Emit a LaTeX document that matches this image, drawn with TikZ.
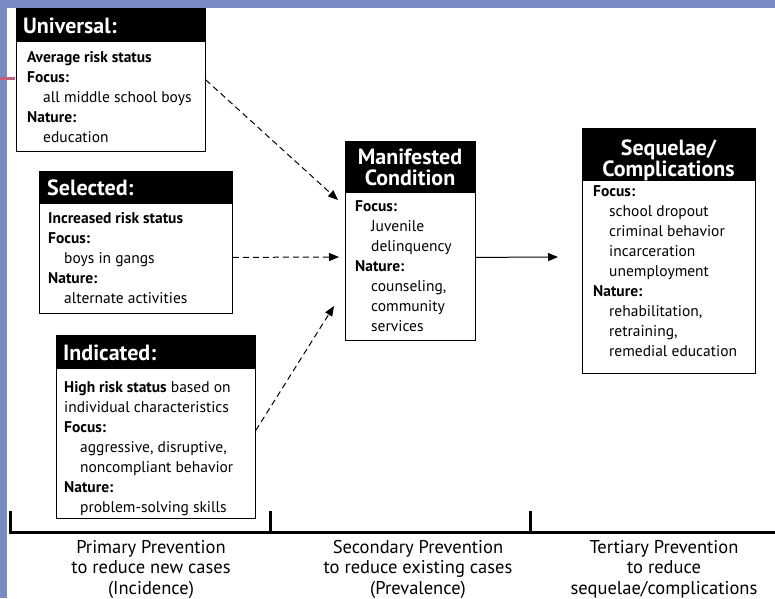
\documentclass[tikz,border=0pt]{standalone}
\usepackage{fontspec}
\setmainfont{PT Sans}
\usetikzlibrary{arrows.meta}
\definecolor{slideblue}{RGB}{122,138,194}
\definecolor{slidemark}{RGB}{192,96,122}
\newcommand\bxind{\hspace*{16pt}}
\newcommand\firstline{\rule{0pt}{13pt}}
\newcommand\hdrline{\rule{0pt}{18pt}}
\begin{document}
\begin{tikzpicture}[x=1pt,y=-1pt,
  box/.style={draw=black, line width=0.8pt, fill=white, inner sep=0pt, anchor=north west},
  hdr/.style={draw=black, fill=black, line width=0.8pt, inner sep=0pt, anchor=north west},
  htext/.style={text=white, font=\fontsize{22}{21}\selectfont\bfseries, inner sep=0pt, align=center},
  body/.style={font=\fontsize{15.5}{20}\selectfont, align=left, inner sep=0pt, anchor=north west},
  foot/.style={font=\fontsize{18.5}{20.5}\selectfont, align=center, inner sep=0pt, anchor=north},
  darrow/.style={dash pattern=on 6pt off 4pt, line width=1pt, -{Triangle[length=10pt,width=8pt]}},
  sarrow/.style={line width=1pt, -{Triangle[length=10pt,width=8pt]}},
  axis/.style={line width=3pt}
]
\useasboundingbox (0,0) rectangle (775,598);
% slide background
\fill[white] (0,0) rectangle (775,598);
\fill[slideblue] (0,0) rectangle (7,598);
\fill[slideblue] (0,0) rectangle (775,8);
\fill[slidemark] (0,77) rectangle (15,80);

% Universal
\node[box, minimum width=189pt, minimum height=143pt] (uni) at (16,8) {};
\node[hdr, minimum width=189pt, minimum height=33pt] (unihdr) at (16,8) {};
\node[htext, anchor=base west] (unititle) at (23,33) {Universal:};
\node[body] (unibody) at (27,49) {\firstline\textbf{Average risk status}\\
  \textbf{Focus:}\\ \bxind all middle school boys\\ \textbf{Nature:}\\ \bxind education};

% Selected
\node[box, minimum width=193pt, minimum height=142pt] (sel) at (39,171) {};
\node[hdr, minimum width=193pt, minimum height=32pt] (selhdr) at (39,171) {};
\node[htext, anchor=base west] (seltitle) at (47,195) {Selected:};
\node[body] (selbody) at (48,210) {\firstline\textbf{Increased risk status}\\
  \textbf{Focus:}\\ \bxind boys in gangs\\ \textbf{Nature:}\\ \bxind alternate activities};

% Indicated
\node[box, minimum width=199pt, minimum height=183pt] (ind) at (56,335) {};
\node[hdr, minimum width=199pt, minimum height=33pt] (indhdr) at (56,335) {};
\node[htext, anchor=base west] (indtitle) at (63,360) {Indicated:};
\node[body] (indbody) at (64,379) {\firstline\textbf{High risk status} based on\\
  individual characteristics\\ \textbf{Focus:}\\ \bxind aggressive, disruptive,\\
  \bxind noncompliant behavior\\ \textbf{Nature:}\\ \bxind problem-solving skills};

% Manifested condition
\node[box, minimum width=130pt, minimum height=199pt] (man) at (345,141) {};
\node[hdr, minimum width=130pt, minimum height=51pt] (manhdr) at (345,141) {};
\node[htext, anchor=north] (mantitle) at (410,146) {\hdrline Manifested\\ Condition};
\node[body] (manbody) at (355,198) {\firstline\textbf{Focus:}\\ \bxind Juvenile\\
  \bxind delinquency\\ \textbf{Nature:}\\ \bxind counseling,\\ \bxind community\\ \bxind services};

% Sequelae / complications
\node[box, minimum width=173pt, minimum height=245pt] (seq) at (582,128) {};
\node[hdr, minimum width=173pt, minimum height=52pt] (seqhdr) at (582,128) {};
\node[htext, anchor=north] (seqtitle) at (668.5,137) {\hdrline Sequelae/\\ Complications};
\node[body] (seqbody) at (593,183) {\firstline\textbf{Focus:}\\ \bxind school dropout\\
  \bxind criminal behavior\\ \bxind incarceration\\ \bxind unemployment\\ \textbf{Nature:}\\
  \bxind rehabilitation,\\ \bxind retraining,\\ \bxind remedial education};

% arrow end points in front of the boxes
\coordinate (tipA) at (338,200);
\coordinate (tipB) at (339,257);
\coordinate (tipC) at (334,306);
\coordinate (tipD) at (558,257);

\draw[darrow] (uni.east) -- (tipA);
\draw[darrow] ([yshift=-15pt]sel.east) -- (tipB);
\draw[darrow] ([yshift=-3.5pt]ind.east) -- (tipC);
\draw[sarrow] ([yshift=-16.5pt]man.east) -- (tipD);

% prevention axis
\coordinate (ax0) at (10,511);
\coordinate (ax1) at (10,532);
\coordinate (ax2) at (775,532);
\coordinate (tk1) at (270,511);
\coordinate (tk1b) at (270,532);
\coordinate (tk2) at (530,511);
\coordinate (tk2b) at (530,532);
\draw[axis] (ax0) -- (ax1) -- (ax2);
\draw[axis] (tk1) -- (tk1b);
\draw[axis] (tk2) -- (tk2b);

\node[foot] (prim) at (151,537) {\rule{0pt}{16pt}Primary Prevention\\ to reduce new cases\\ (Incidence)};
\node[foot] (sec) at (418,537) {\rule{0pt}{16pt}Secondary Prevention\\ to reduce existing cases\\ (Prevalence)};
\node[foot] (ter) at (664,537) {\rule{0pt}{16pt}Tertiary Prevention\\ to reduce\\ sequelae/complications};
\end{tikzpicture}
\end{document}
